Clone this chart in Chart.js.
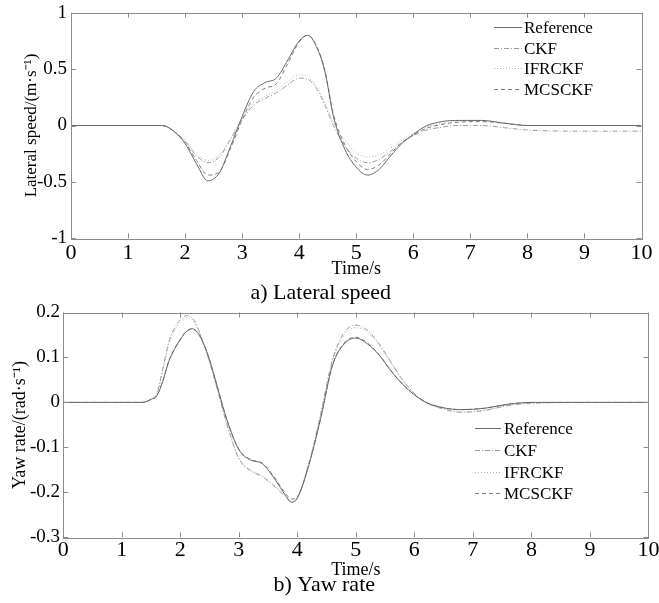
<!DOCTYPE html>
<html><head><meta charset="utf-8">
<script src="https://cdn.jsdelivr.net/npm/chart.js@4/dist/chart.umd.min.js"></script>
<style>
html,body{margin:0;padding:0;background:#fff;}
canvas{position:absolute;left:0;}
#c1{top:0;width:659px;height:312px;}
#c2{top:300px;width:659px;height:303px;}
</style>
</head><body>
<canvas id="c1" width="659" height="312"></canvas>
<canvas id="c2" width="659" height="303"></canvas>
<script>
// ---------- data ----------
const seriesNames = ['Reference', 'CKF', 'IFRCKF', 'MCSCKF'];
const xTickValues = [0,1,2,3,4,5,6,7,8,9,10];
const xTickLabels = ['0','1','2','3','4','5','6','7','8','9','10'];
const latYTickValues = [-1,-0.5,0,0.5,1];
const latYTickLabels = ['-1','-0.5','0','0.5','1'];
const yawYTickValues = [-0.3,-0.2,-0.1,0,0.1,0.2];
const yawYTickLabels = ['-0.3','-0.2','-0.1','0','0.1','0.2'];

// a) Lateral speed
const latTime    = [0, 1.6, 1.8, 2.0, 2.2, 2.4, 2.6, 2.8, 3.0, 3.2, 3.4, 3.6, 3.8, 4.0, 4.15, 4.3, 4.45, 4.6, 4.8, 5.0, 5.2, 5.4, 5.6, 5.8, 6.0, 6.2, 6.5, 6.8, 7.2, 7.6, 8.0, 9.0, 10.0];
const latRef     = [0, 0, -0.05, -0.16, -0.34, -0.49, -0.42, -0.18, 0.08, 0.30, 0.38, 0.42, 0.58, 0.75, 0.80, 0.70, 0.48, 0.08, -0.21, -0.37, -0.44, -0.39, -0.27, -0.16, -0.08, -0.01, 0.035, 0.045, 0.045, 0.02, 0.0, 0.0, 0.0];
const latCKF     = [0, 0, -0.05, -0.14, -0.27, -0.33, -0.28, -0.12, 0.05, 0.18, 0.24, 0.29, 0.36, 0.42, 0.41, 0.33, 0.18, 0.0, -0.18, -0.29, -0.33, -0.30, -0.23, -0.15, -0.09, -0.045, -0.015, 0.0, 0.0, -0.02, -0.04, -0.05, -0.05];
const latIFRCKF  = [0, 0, -0.05, -0.13, -0.25, -0.31, -0.26, -0.11, 0.06, 0.20, 0.26, 0.31, 0.39, 0.45, 0.43, 0.35, 0.20, 0.03, -0.13, -0.24, -0.28, -0.26, -0.20, -0.13, -0.07, -0.02, 0.02, 0.04, 0.045, 0.02, 0.0, 0.0, 0.0];
const latMCSCKF  = [0, 0, -0.05, -0.15, -0.31, -0.44, -0.41, -0.20, 0.05, 0.25, 0.33, 0.37, 0.55, 0.74, 0.80, 0.71, 0.49, 0.10, -0.17, -0.32, -0.39, -0.35, -0.25, -0.15, -0.085, -0.03, 0.01, 0.03, 0.035, 0.02, 0.0, 0.0, 0.0];

// b) Yaw rate
const yawTime    = [0, 1.35, 1.5, 1.6, 1.7, 1.8, 1.9, 2.0, 2.1, 2.2, 2.3, 2.4, 2.5, 2.6, 2.8, 3.0, 3.2, 3.4, 3.6, 3.8, 3.9, 4.0, 4.2, 4.4, 4.6, 4.8, 5.0, 5.2, 5.4, 5.6, 5.8, 6.0, 6.2, 6.5, 6.8, 7.2, 7.6, 8.0, 9.0, 10.0];
const yawRef     = [0, 0, 0.007, 0.015, 0.047, 0.09, 0.118, 0.14, 0.157, 0.164, 0.155, 0.13, 0.095, 0.05, -0.04, -0.105, -0.128, -0.136, -0.168, -0.207, -0.222, -0.213, -0.138, -0.035, 0.082, 0.13, 0.143, 0.13, 0.105, 0.07, 0.04, 0.017, 0.0, -0.012, -0.016, -0.013, -0.004, 0.0, 0.0, 0.0];
const yawCKF     = [0, 0, 0.007, 0.02, 0.075, 0.133, 0.165, 0.184, 0.193, 0.188, 0.166, 0.13, 0.09, 0.045, -0.05, -0.125, -0.152, -0.165, -0.186, -0.21, -0.222, -0.212, -0.135, -0.025, 0.095, 0.155, 0.172, 0.16, 0.13, 0.09, 0.05, 0.02, 0.0, -0.015, -0.022, -0.018, -0.007, -0.002, 0.0, 0.0];
const yawIFRCKF  = [0, 0, 0.007, 0.019, 0.07, 0.127, 0.159, 0.178, 0.188, 0.184, 0.163, 0.128, 0.088, 0.044, -0.05, -0.123, -0.15, -0.163, -0.184, -0.208, -0.22, -0.21, -0.134, -0.026, 0.092, 0.15, 0.166, 0.156, 0.127, 0.088, 0.049, 0.019, 0.0, -0.014, -0.021, -0.017, -0.006, -0.001, 0.0, 0.0];
const yawMCSCKF  = [0, 0, 0.007, 0.015, 0.048, 0.091, 0.119, 0.141, 0.158, 0.163, 0.154, 0.129, 0.094, 0.049, -0.04, -0.104, -0.127, -0.135, -0.165, -0.203, -0.215, -0.21, -0.137, -0.034, 0.083, 0.132, 0.145, 0.132, 0.106, 0.071, 0.041, 0.017, 0.0, -0.012, -0.016, -0.013, -0.004, 0.0, 0.0, 0.0];

// ---------- styles ----------
const FONT = '"Liberation Serif", "Times New Roman", serif';
const lineStyles = [
  {color:'#6a6a6a', dash:[]},
  {color:'#9c9c9c', dash:[5,2,1,2]},
  {color:'#b2b2b2', dash:[1,2]},
  {color:'#7c7c7c', dash:[4,3]}
];

function makeDatasets(time, seriesList) {
  return seriesList.map((vals, k) => ({
    label: seriesNames[k],
    data: time.map((t, i) => ({x: t, y: vals[i]})),
    borderColor: lineStyles[k].color,
    borderDash: lineStyles[k].dash,
    borderWidth: 1,
    pointRadius: 0,
    fill: false,
    cubicInterpolationMode: 'monotone'
  }));
}

// frame + inward ticks (MATLAB style), and inside legend
const framePlugin = {
  id: 'frameTicks',
  afterDatasetsDraw(chart) {
    const {ctx, chartArea: a, scales} = chart;
    ctx.save();
    ctx.strokeStyle = '#8c8c8c';
    ctx.lineWidth = 1;
    ctx.setLineDash([]);
    ctx.strokeRect(Math.round(a.left) + 0.5, Math.round(a.top) + 0.5, Math.round(a.right - a.left), Math.round(a.bottom - a.top));
    const L = 5;
    ctx.beginPath();
    scales.x.ticks.forEach(t => {
      const px = Math.round(scales.x.getPixelForValue(t.value)) + 0.5;
      ctx.moveTo(px, a.bottom); ctx.lineTo(px, a.bottom - L);
      ctx.moveTo(px, a.top); ctx.lineTo(px, a.top + L);
    });
    scales.y.ticks.forEach(t => {
      const py = Math.round(scales.y.getPixelForValue(t.value)) + 0.5;
      ctx.moveTo(a.left, py); ctx.lineTo(a.left + L, py);
      ctx.moveTo(a.right, py); ctx.lineTo(a.right - L, py);
    });
    ctx.stroke();
    ctx.restore();
  },
  afterDraw(chart, args, opts) {
    if (!opts || opts.x === undefined) return;
    const {ctx} = chart;
    ctx.save();
    ctx.font = '17px ' + FONT;
    ctx.textBaseline = 'middle';
    ctx.textAlign = 'left';
    chart.data.datasets.forEach((ds, i) => {
      const y = Math.round(opts.y + i * opts.rowH) + 0.5;
      ctx.strokeStyle = ds.borderColor;
      ctx.lineWidth = 1;
      ctx.setLineDash(ds.borderDash || []);
      ctx.beginPath();
      ctx.moveTo(opts.x, y);
      ctx.lineTo(opts.x + opts.len, y);
      ctx.stroke();
      ctx.setLineDash([]);
      ctx.fillStyle = '#000';
      ctx.fillText(ds.label, opts.x + opts.len + opts.gap, y + 1);
    });
    ctx.restore();
  }
};

function makeOptions(c) {
  return {
    responsive: false,
    animation: false,
    devicePixelRatio: 1,
    layout: {autoPadding: false, padding: {left: 0, right: c.padRight, top: c.padTop, bottom: 0}},
    plugins: {
      legend: {display: false},
      tooltip: {enabled: false},
      title: {
        display: true, position: 'bottom', text: c.caption, color: '#000',
        font: {family: FONT, size: 22, weight: 'normal', lineHeight: 0.6},
        padding: {top: 0, bottom: c.capPad}
      },
      frameTicks: c.legend
    },
    scales: {
      x: {
        type: 'linear', min: 0, max: 10,
        afterBuildTicks: s => { s.ticks = xTickValues.map(v => ({value: v})); },
        ticks: {
          font: {family: FONT, size: 22}, color: '#000', padding: c.xTickPad,
          maxRotation: 0, autoSkip: false,
          callback: (v, i) => xTickLabels[i]
        },
        grid: {display: false, drawTicks: false},
        border: {display: false},
        title: {display: true, text: 'Time/s', color: '#000',
          font: {family: FONT, size: 18, lineHeight: 1}, padding: {top: 0, bottom: c.xTitlePad}},
        afterFit: s => { s.height = c.xH; s.paddingLeft = 0; s.paddingRight = 0; }
      },
      y: {
        type: 'linear', min: c.yMin, max: c.yMax,
        afterBuildTicks: s => { s.ticks = c.yTicks.map(v => ({value: v})); },
        ticks: {
          font: {family: FONT, size: 19}, color: '#000', padding: c.yTickPad,
          autoSkip: false,
          callback: (v, i) => c.yLabels[i]
        },
        grid: {display: false, drawTicks: false},
        border: {display: false},
        title: {display: true, text: c.yTitle, color: '#000',
          font: {family: FONT, size: c.yTitleSize, lineHeight: 1.2}, padding: {top: c.yTitlePad, bottom: 0}},
        afterFit: s => { s.width = c.yW; s.paddingTop = 0; s.paddingBottom = 0; }
      }
    }
  };
}

new Chart(document.getElementById('c1'), {
  type: 'line',
  data: {datasets: makeDatasets(latTime, [latRef, latCKF, latIFRCKF, latMCSCKF])},
  options: makeOptions({
    caption: 'a) Lateral speed', capPad: 12.4,
    padRight: 17.5, padTop: 12.7,
    xH: 48.1, xTickPad: 2, xTitlePad: 7.8,
    yW: 71, yTickPad: 4, yTitlePad: 21.2, yTitleSize: 17,
    yMin: -1, yMax: 1, yTicks: latYTickValues, yLabels: latYTickLabels,
    yTitle: 'Lateral speed/(m·s⁻¹)',
    legend: {x: 494, y: 27.3, rowH: 20.4, len: 28, gap: 2}
  }),
  plugins: [framePlugin]
});

new Chart(document.getElementById('c2'), {
  type: 'line',
  data: {datasets: makeDatasets(yawTime, [yawRef, yawCKF, yawIFRCKF, yawMCSCKF])},
  options: makeOptions({
    caption: 'b) Yaw rate', capPad: 10.9,
    padRight: 10.6, padTop: 12.5,
    xH: 41.6, xTickPad: 0, xTitlePad: 0,
    yW: 63.3, yTickPad: 3.3, yTitlePad: 9.2, yTitleSize: 18,
    yMin: -0.3, yMax: 0.2, yTicks: yawYTickValues, yLabels: yawYTickLabels,
    yTitle: 'Yaw rate/(rad·s⁻¹)',
    legend: {x: 475, y: 128.3, rowH: 21.7, len: 26, gap: 3}
  }),
  plugins: [framePlugin]
});
</script>
</body></html>
